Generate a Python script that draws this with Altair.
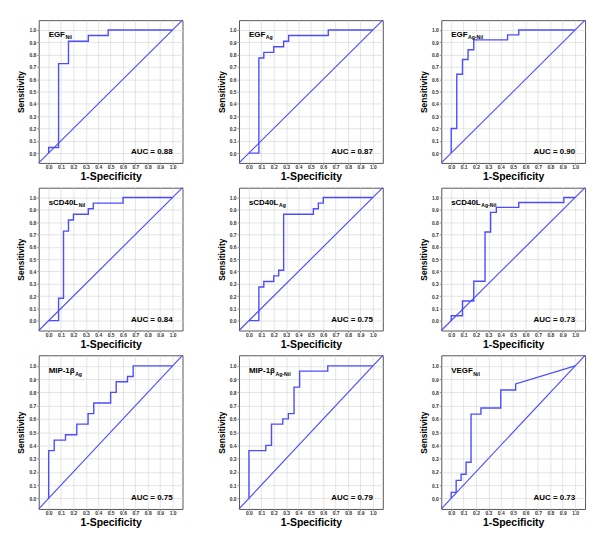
import altair as alt
import pandas as pd

# ---------------- data ----------------
names = ["EGF", "EGF", "EGF", "sCD40L", "sCD40L", "sCD40L", "MIP-1β", "MIP-1β", "VEGF"]
subs = ["Nil", "Ag", "Ag-Nil", "Nil", "Ag", "Ag-Nil", "Ag", "Ag-Nil", "Nil"]
aucs = ["0.88", "0.87", "0.90", "0.84", "0.75", "0.73", "0.75", "0.79", "0.73"]

fpr_egf_nil = [0, 0, 0.08, 0.08, 0.16, 0.16, 0.32, 0.32, 0.48, 0.48, 1.0]
tpr_egf_nil = [0, 0.045, 0.045, 0.727, 0.727, 0.909, 0.909, 0.955, 0.955, 1.0, 1.0]

fpr_egf_ag = [0, 0.08, 0.08, 0.12, 0.12, 0.2, 0.2, 0.28, 0.28, 0.32, 0.32, 0.64, 0.64, 1.0]
tpr_egf_ag = [0, 0, 0.773, 0.773, 0.818, 0.818, 0.864, 0.864, 0.909, 0.909, 0.955, 0.955, 1.0, 1.0]

fpr_egf_agnil = [0, 0, 0.045, 0.045, 0.091, 0.091, 0.136, 0.136, 0.182, 0.182, 0.455, 0.455, 0.545, 0.545, 1.0]
tpr_egf_agnil = [0, 0.2, 0.2, 0.64, 0.64, 0.76, 0.76, 0.84, 0.84, 0.92, 0.92, 0.96, 0.96, 1.0, 1.0]

fpr_cd40_nil = [0, 0.08, 0.08, 0.12, 0.12, 0.16, 0.16, 0.2, 0.2, 0.32, 0.32, 0.36, 0.36, 0.6, 0.6, 1.0]
tpr_cd40_nil = [0, 0, 0.182, 0.182, 0.727, 0.727, 0.818, 0.818, 0.864, 0.864, 0.909, 0.909, 0.955, 0.955, 1.0, 1.0]

fpr_cd40_ag = [0, 0.08, 0.08, 0.12, 0.12, 0.2, 0.2, 0.24, 0.24, 0.28, 0.28, 0.52, 0.52, 0.56, 0.56, 0.6, 0.6, 1.0]
tpr_cd40_ag = [0, 0, 0.273, 0.273, 0.318, 0.318, 0.364, 0.364, 0.409, 0.409, 0.864, 0.864, 0.909, 0.909, 0.955, 0.955, 1.0, 1.0]

fpr_cd40_agnil = [0, 0, 0.091, 0.091, 0.182, 0.182, 0.273, 0.273, 0.318, 0.318, 0.364, 0.364, 0.545, 0.545, 0.909, 0.909, 1.0]
tpr_cd40_agnil = [0, 0.04, 0.04, 0.16, 0.16, 0.32, 0.32, 0.72, 0.72, 0.88, 0.88, 0.92, 0.92, 0.96, 0.96, 1.0, 1.0]

fpr_mip_ag = [0, 0, 0.045, 0.045, 0.136, 0.136, 0.227, 0.227, 0.318, 0.318, 0.364, 0.364, 0.5, 0.5, 0.545, 0.545, 0.636, 0.636, 0.682, 0.682, 1.0]
tpr_mip_ag = [0, 0.36, 0.36, 0.44, 0.44, 0.48, 0.48, 0.56, 0.56, 0.64, 0.64, 0.72, 0.72, 0.8, 0.8, 0.88, 0.88, 0.92, 0.92, 1.0, 1.0]

fpr_mip_agnil = [0, 0, 0.136, 0.136, 0.182, 0.182, 0.273, 0.273, 0.318, 0.318, 0.364, 0.364, 0.409, 0.409, 0.636, 0.636, 1.0]
tpr_mip_agnil = [0, 0.36, 0.36, 0.4, 0.4, 0.56, 0.56, 0.6, 0.6, 0.64, 0.64, 0.84, 0.84, 0.96, 0.96, 1.0, 1.0]

fpr_vegf_nil = [0, 0, 0.04, 0.04, 0.08, 0.08, 0.12, 0.12, 0.16, 0.16, 0.24, 0.24, 0.4, 0.4, 0.52, 0.52, 1.0]
tpr_vegf_nil = [0, 0.045, 0.045, 0.136, 0.136, 0.182, 0.182, 0.273, 0.273, 0.636, 0.636, 0.682, 0.682, 0.818, 0.818, 0.864, 1.0]

fprs = [fpr_egf_nil, fpr_egf_ag, fpr_egf_agnil, fpr_cd40_nil, fpr_cd40_ag,
        fpr_cd40_agnil, fpr_mip_ag, fpr_mip_agnil, fpr_vegf_nil]
tprs = [tpr_egf_nil, tpr_egf_ag, tpr_egf_agnil, tpr_cd40_nil, tpr_cd40_ag,
        tpr_cd40_agnil, tpr_mip_ag, tpr_mip_agnil, tpr_vegf_nil]

tick_values = [0.0, 0.1, 0.2, 0.3, 0.4, 0.5, 0.6, 0.7, 0.8, 0.9, 1.0]
domain = [-0.08, 1.08]

# ---------------- style ----------------
FONT = "Liberation Sans"
BLUE = "#4d4dff"
W = 145
LABEL_SIZE = 8
SUB_SIZE = 5.2

widths = {"E": .667, "G": .778, "F": .611, "s": .556, "C": .722, "D": .722, "4": .556,
          "0": .556, "L": .611, "M": .833, "I": .278, "P": .667, "-": .333, "1": .556,
          "β": .611, "V": .667}


def text_width(t, size):
    return sum(widths.get(c, 0.6) for c in t) * size


one = pd.DataFrame({"k": [0]})


def panel(k, h):
    df = pd.DataFrame({"x": fprs[k], "y": tprs[k], "i": list(range(len(fprs[k])))})
    diag = pd.DataFrame({"x": domain, "y": domain, "i": [0, 1]})
    xs = alt.Scale(domain=domain, nice=False, zero=False)
    ys = alt.Scale(domain=domain, nice=False, zero=False)
    xaxis = alt.Axis(values=tick_values, format=".1f", title="1-Specificity",
                     titleFontSize=10.5, titlePadding=2, labelPadding=0)
    yaxis = alt.Axis(values=tick_values, format=".1f", title="Sensitivity",
                     titleFontSize=8.5, titlePadding=3, labelPadding=1)
    d = alt.Chart(diag).mark_line(color=BLUE, strokeWidth=1.15).encode(
        x=alt.X("x:Q", scale=xs, axis=xaxis), y=alt.Y("y:Q", scale=ys, axis=yaxis),
        order=alt.Order("i:Q"))
    c = alt.Chart(df).mark_line(color=BLUE, strokeWidth=1.4).encode(
        x=alt.X("x:Q", scale=xs, axis=xaxis), y=alt.Y("y:Q", scale=ys, axis=yaxis),
        order=alt.Order("i:Q"))
    top = 17 if h < 150 else 18
    lab = alt.Chart(one).mark_text(text=names[k], font=FONT, fontWeight="bold",
                                   fontSize=LABEL_SIZE, align="left",
                                   baseline="alphabetic", color="black").encode(
        x=alt.value(10), y=alt.value(top))
    sub = alt.Chart(one).mark_text(text=subs[k], font=FONT, fontWeight="bold",
                                   fontSize=SUB_SIZE, align="left",
                                   baseline="alphabetic", color="black").encode(
        x=alt.value(10 + text_width(names[k], LABEL_SIZE) + 0.5), y=alt.value(top + 2.5))
    auc = alt.Chart(one).mark_text(text="AUC = " + aucs[k], font=FONT, fontWeight="bold",
                                   fontSize=LABEL_SIZE, align="right",
                                   baseline="alphabetic", color="black").encode(
        x=alt.value(W - 10), y=alt.value(h - 9))
    return alt.layer(d, c, lab, sub, auc).properties(width=W, height=h)


rows = []
for r, h in enumerate([144, 144, 155]):
    p = [panel(3 * r + j, h) for j in range(3)]
    rows.append(alt.hconcat(p[0], alt.hconcat(p[1], p[2], spacing=33), spacing=31))

chart = alt.vconcat(*rows, spacing=2).properties(
    padding={"left": 8, "top": 7, "right": 4, "bottom": 4}
).configure_view(
    stroke="#555555", strokeWidth=1
).configure_axis(
    labelFont=FONT, titleFont=FONT, labelFontSize=5, labelFontWeight="bold",
    labelColor="#333333", titleFontWeight="bold", titleColor="black",
    grid=True, gridColor="#d9d9d9", gridWidth=0.7, domain=False,
    tickSize=2, tickColor="#666666", tickWidth=0.7
)

chart.save("out.html", embed_options={"renderer": "svg", "actions": False})
